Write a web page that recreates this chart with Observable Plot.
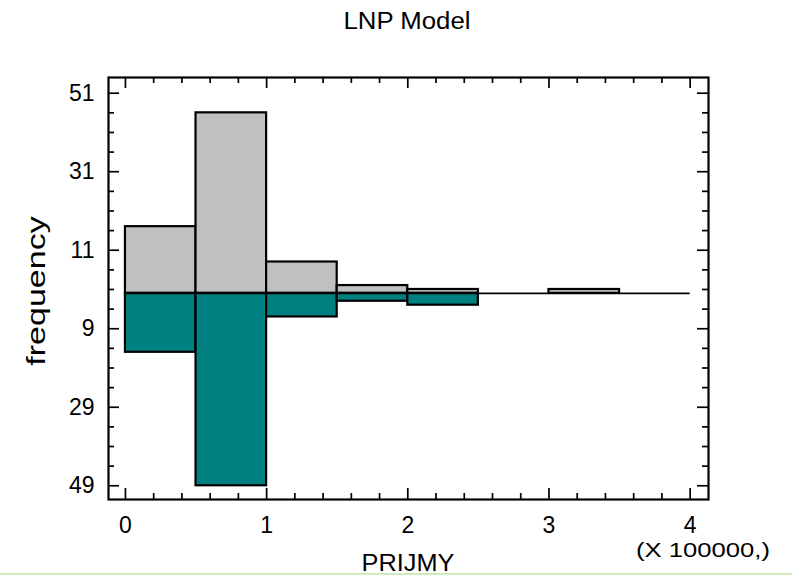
<!DOCTYPE html>
<html><head><meta charset="utf-8">
<script src="https://cdn.jsdelivr.net/npm/d3@7"></script>
<script src="https://cdn.jsdelivr.net/npm/@observablehq/plot@0.6"></script>
<style>
body{margin:0;background:#fff;}
#wrap{position:relative;width:792px;height:575px;overflow:hidden;font-family:"Liberation Sans",Arial,sans-serif;background:#fff;}
#wrap svg{position:absolute;left:0;top:0;}
#wrap svg g[aria-label$="tick label"] text{font-size:23px;}
.lbl{position:absolute;white-space:nowrap;color:#000;line-height:1;}
#greenline{position:absolute;left:0;top:573px;width:792px;height:2px;background:#cfeabb;}
</style></head><body><div id="wrap"></div>
<script>
// ---- data ----
const binEdges = [0, 0.5, 1, 1.5, 2, 2.5, 3, 3.5, 4];
const upperCounts = [17, 46, 8, 2, 1, 0, 1, 0];   // grey (upward)
const lowerCounts = [15, 49, 6, 2, 3, 0, 0, 0];   // teal (downward)
const yTickValues = [51, 31, 11, -9, -29, -49];
const xTickValues = [0, 1, 2, 3, 4];
const titleText = "LNP Model";
const xLabelText = "PRIJMY";
const yLabelText = "frequency";
const xUnitText = "(X 100000,)";

// ---- derived tables ----
const upper = upperCounts.map((c, i) => ({x1: binEdges[i], x2: binEdges[i + 1], n: c})).filter(d => d.n > 0);
const lower = lowerCounts.map((c, i) => ({x1: binEdges[i], x2: binEdges[i + 1], n: -c})).filter(d => d.n < 0);
const xMinor = d3.range(0, 21).map(i => +(i * 0.2).toFixed(1)).filter(v => !xTickValues.includes(v));
const yMinor = d3.range(-49, 52, 5).filter(v => !yTickValues.includes(v));

const W = 792, H = 575, mL = 108, mR = 84, mT = 77, mB = 76;
const pw = W - mL - mR, ph = H - mT - mB;
const majLen = 11, minLen = 6, tsw = 1.7;

const chart = Plot.plot({
  width: W, height: H,
  marginLeft: mL, marginRight: mR, marginTop: mT, marginBottom: mB,
  style: {fontFamily: "Liberation Sans, Arial, sans-serif", fontSize: "23px", color: "black", background: "transparent"},
  x: {domain: [-0.12, 4.13], label: null},
  y: {domain: [-52.5, 55], label: null},
  marks: [
    Plot.rect(upper, {x1: "x1", x2: "x2", y1: 0, y2: "n", fill: "#c0c0c0", stroke: "black", strokeWidth: 2.2}),
    Plot.rect(lower, {x1: "x1", x2: "x2", y1: 0, y2: "n", fill: "#008080", stroke: "black", strokeWidth: 2.2}),
    Plot.ruleY([0], {x1: binEdges[0], x2: binEdges[binEdges.length - 1], stroke: "black", strokeWidth: 1.6}),
    // inward ticks: bottom & top
    Plot.tickX(xTickValues, {x: d => d, insetTop: ph - majLen, stroke: "black", strokeWidth: tsw}),
    Plot.tickX(xMinor, {x: d => d, insetTop: ph - minLen, stroke: "black", strokeWidth: tsw}),
    Plot.tickX(xTickValues, {x: d => d, insetBottom: ph - majLen, stroke: "black", strokeWidth: tsw}),
    Plot.tickX(xMinor, {x: d => d, insetBottom: ph - minLen, stroke: "black", strokeWidth: tsw}),
    // inward ticks: left & right
    Plot.tickY(yTickValues, {y: d => d, insetRight: pw - majLen, stroke: "black", strokeWidth: tsw}),
    Plot.tickY(yMinor, {y: d => d, insetRight: pw - minLen, stroke: "black", strokeWidth: tsw}),
    Plot.tickY(yTickValues, {y: d => d, insetLeft: pw - majLen, stroke: "black", strokeWidth: tsw}),
    Plot.tickY(yMinor, {y: d => d, insetLeft: pw - minLen, stroke: "black", strokeWidth: tsw}),
    Plot.axisY(yTickValues, {tickSize: 0, tickPadding: 14, tickFormat: d => String(Math.abs(d)), label: null, fontSize: 23}),
    Plot.axisX(xTickValues, {tickSize: 0, tickPadding: 17, tickFormat: d => String(d), label: null, fontSize: 23}),
    Plot.frame({stroke: "black", strokeWidth: 2.2})
  ]
});

const wrap = document.getElementById("wrap");
wrap.appendChild(chart);

function addLabel(text, cx, cy, size, transform) {
  const el = document.createElement("div");
  el.className = "lbl";
  el.textContent = text;
  el.style.fontSize = size + "px";
  el.style.left = cx + "px";
  el.style.top = cy + "px";
  el.style.transform = "translate(-50%,-50%) " + (transform || "");
  wrap.appendChild(el);
  return el;
}
addLabel(titleText, 407, 21, 23, "scaleX(1.12)");
addLabel(yLabelText, 36, 291, 25, "rotate(-90deg) scaleX(1.36)");
addLabel(xLabelText, 408, 563, 23, "scaleX(1.1)");
addLabel(xUnitText, 703, 549, 21, "scaleX(1.22)");
const g = document.createElement("div");
g.id = "greenline";
wrap.appendChild(g);
</script>
</body></html>
